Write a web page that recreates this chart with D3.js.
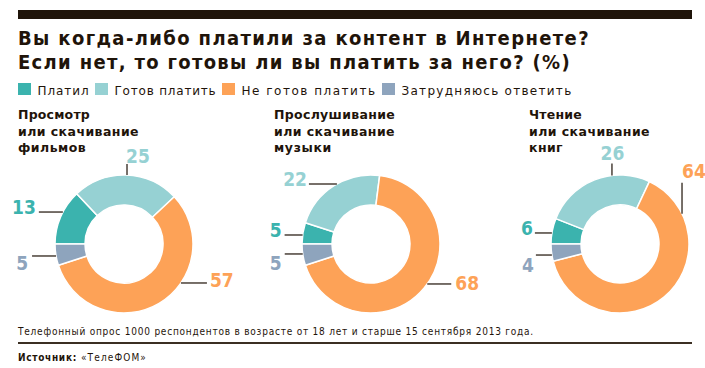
<!DOCTYPE html>
<html>
<head>
<meta charset="utf-8">
<script src="https://cdn.jsdelivr.net/npm/d3@7"></script>
<style>
  body { margin: 0; background: #fff; }
  svg { display: block; }
</style>
</head>
<body>
<svg id="chart" width="705" height="368"></svg>
<script>
// ---- данные ----
const titleLines = ["Вы когда-либо платили за контент в Интернете?", "Если нет, то готовы ли вы платить за него? (%)"];
const categories = ["Платил", "Готов платить", "Не готов платить", "Затрудняюсь ответить"];
const panelTitles = [
  ["Просмотр", "или скачивание", "фильмов"],
  ["Прослушивание", "или скачивание", "музыки"],
  ["Чтение", "или скачивание", "книг"]
];
const filmValues = [13, 25, 57, 5];
const musicValues = [5, 22, 68, 5];
const bookValues = [6, 26, 64, 4];
const footnote = "Телефонный опрос 1000 респондентов в возрасте от 18 лет и старше 15 сентября 2013 года.";
const sourceLabel = "Источник:";
const sourceName = "«ТелеФОМ»";

// ---- оформление ----
const colors = ["#3bb3ae", "#96d1d3", "#fda257", "#8ea4bd"];
const dark = "#1f140a";
const panels = [
  { values: filmValues, cx: 124, titleX: 18 },
  { values: musicValues, cx: 371, titleX: 274 },
  { values: bookValues, cx: 620, titleX: 529 }
];
const cy = 244, rOut = 69, rIn = 39;

// выноски: угол на кольце (градусы по часовой от 12 ч), направление, длина, смещение подписи
const leaders = [
  [ {a: 297.6, dir: "left", len: 24, anchor: "end", dx: -3, dy: 1.5},
    {a: 2.5, dir: "up", len: 11, anchor: "start", dx: -1, dy: -1},
    {a: 124.4, dir: "right", len: 26, anchor: "start", dx: 3, dy: 4.5},
    {a: 260, dir: "left", len: 24, anchor: "end", dx: -4, dy: 14} ],
  [ {a: 277.5, dir: "left", len: 18, anchor: "end", dx: -3, dy: 2},
    {a: 330.4, dir: "left", len: 28, anchor: "end", dx: -2, dy: 2},
    {a: 125.4, dir: "right", len: 24, anchor: "start", dx: 4, dy: 6},
    {a: 261.7, dir: "left", len: 18, anchor: "end", dx: -3, dy: 16} ],
  [ {a: 279.2, dir: "left", len: 17, anchor: "end", dx: -2, dy: 2},
    {a: 353.3, dir: "up", len: 12, anchor: "middle", dx: 0.5, dy: -3},
    {a: 64, dir: "up", len: 31, anchor: "start", dx: 0, dy: -4.5},
    {a: 260.8, dir: "left", len: 16, anchor: "end", dx: -2, dy: 17} ]
];

const svg = d3.select("#chart");

// подгоняем ширину текста межбуквенным интервалом
function fit(sel, target) {
  const node = sel.node();
  const w = node.getComputedTextLength();
  const n = node.textContent.length;
  sel.attr("letter-spacing", ((target - w) / n).toFixed(3));
  return sel;
}

svg.append("rect").attr("x", 18).attr("y", 10).attr("width", 674).attr("height", 9).attr("fill", dark);

const titleW = [572, 553];
titleLines.forEach((t, i) => {
  const tt = svg.append("text")
    .attr("x", 18).attr("y", 45 + i * 23.5)
    .attr("font-family", "'DejaVu Sans Condensed', 'DejaVu Sans', sans-serif")
    .attr("font-weight", "bold").attr("font-size", 20)
    .attr("fill", dark)
    .text(t);
  fit(tt, titleW[i]);
});

// легенда
const legendW = [52, 102, 135, 171];
let lx = 18;
categories.forEach((c, i) => {
  svg.append("rect").attr("x", lx).attr("y", 83).attr("width", 13).attr("height", 12).attr("fill", colors[i]);
  const lt = svg.append("text")
    .attr("x", lx + 19.5).attr("y", 94.5)
    .attr("font-family", "'DejaVu Sans', sans-serif")
    .attr("font-size", 12).attr("fill", dark)
    .text(c);
  fit(lt, legendW[i]);
  lx = lx + 19.5 + legendW[i] + 5.5;
});

const pie = d3.pie().sort(null).startAngle(-Math.PI / 2).endAngle(1.5 * Math.PI);
const arc = d3.arc().innerRadius(rIn).outerRadius(rOut);
const titleWidths = [[72, 121, 68], [121, 121, 58], [53, 121, 34]];

panels.forEach((p, pi) => {
  panelTitles[pi].forEach((line, li) => {
    const pt = svg.append("text")
      .attr("x", p.titleX).attr("y", 119 + li * 16.5)
      .attr("font-family", "'DejaVu Sans', sans-serif")
      .attr("font-weight", "bold").attr("font-size", 12.5)
      .attr("fill", dark)
      .text(line);
    fit(pt, titleWidths[pi][li]);
  });

  const g = svg.append("g").attr("transform", `translate(${p.cx},${cy})`);
  g.selectAll("path")
    .data(pie(p.values))
    .enter()
    .append("path")
    .attr("d", arc)
    .attr("fill", (d, i) => colors[i])
    .attr("stroke", "#fff")
    .attr("stroke-width", 1.5);

  p.values.forEach((v, i) => {
    const L = leaders[pi][i];
    const rad = L.a * Math.PI / 180;
    const x0 = rOut * Math.sin(rad), y0 = -rOut * Math.cos(rad);
    let x1 = x0, y1 = y0;
    if (L.dir === "left") x1 = x0 - L.len;
    if (L.dir === "right") x1 = x0 + L.len;
    if (L.dir === "up") y1 = y0 - L.len;
    g.append("line")
      .attr("x1", x0).attr("y1", y0).attr("x2", x1).attr("y2", y1)
      .attr("stroke", "#4a4038").attr("stroke-width", 1.5);
    g.append("text")
      .attr("x", x1 + L.dx).attr("y", y1 + L.dy)
      .attr("text-anchor", L.anchor)
      .attr("font-family", "'DejaVu Sans Condensed', 'DejaVu Sans', sans-serif")
      .attr("font-weight", "bold").attr("font-size", 19)
      .attr("fill", colors[i])
      .text(v);
  });
});

const fn = svg.append("text")
  .attr("x", 18).attr("y", 335)
  .attr("font-family", "'DejaVu Sans Condensed', 'DejaVu Sans', sans-serif")
  .attr("font-size", 10).attr("fill", dark)
  .text(footnote);
fit(fn, 516);

svg.append("line").attr("x1", 18).attr("x2", 692).attr("y1", 343).attr("y2", 343)
  .attr("stroke", "#3b2f23").attr("stroke-width", 2);

const src = svg.append("text")
  .attr("x", 18).attr("y", 361)
  .attr("font-family", "'DejaVu Sans Condensed', 'DejaVu Sans', sans-serif")
  .attr("font-size", 10).attr("fill", dark)
  .text(sourceLabel);
src.attr("font-weight", "bold");
fit(src, 59);
const srcName = svg.append("text")
  .attr("x", 81).attr("y", 361)
  .attr("font-family", "'DejaVu Sans Condensed', 'DejaVu Sans', sans-serif")
  .attr("font-size", 10).attr("fill", dark)
  .text(sourceName);
fit(srcName, 66);
</script>
</body>
</html>
